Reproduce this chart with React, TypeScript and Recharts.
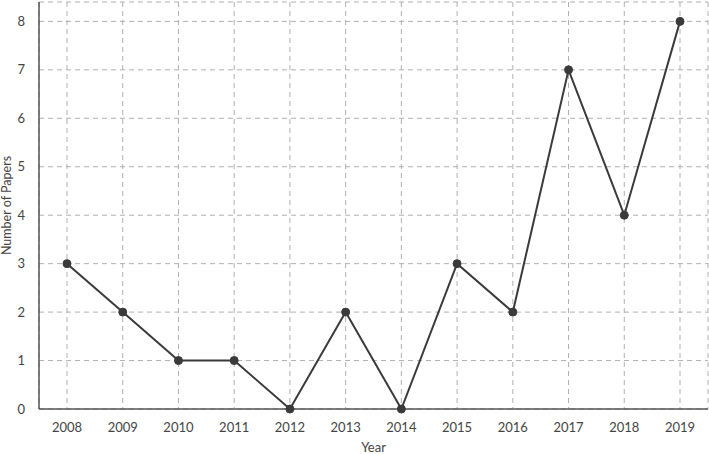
import { LineChart, Line, XAxis, YAxis, CartesianGrid } from "recharts";

const years = ["2008", "2009", "2010", "2011", "2012", "2013", "2014", "2015", "2016", "2017", "2018", "2019"];
const papers = [3, 2, 1, 1, 0, 2, 0, 3, 2, 7, 4, 8];
const yTicks = [0, 1, 2, 3, 4, 5, 6, 7, 8];

const data = years.map((year, i) => ({ year, papers: papers[i] }));

const font = "Lato, 'Open Sans', sans-serif";
const tickStyle = { fill: "#444", fontSize: 13, fontFamily: font };

export default function App() {
  return (
    <div style={{ position: "absolute", left: 0, top: 0, background: "#fff" }}>
      <LineChart width={709} height={454} data={data} margin={{ top: 2, right: 1, left: 0, bottom: 0 }}>
        <CartesianGrid stroke="#b0b0b0" strokeDasharray="5 4" />
        <XAxis
          dataKey="year"
          height={45}
          padding={{ left: 28, right: 28 }}
          tickLine={false}
          tickMargin={8}
          stroke="#555"
          strokeWidth={1.5}
          tick={tickStyle}
          interval={0}
          label={{ value: "Year", position: "insideBottom", offset: 2, style: { fill: "#444", fontSize: 13, fontFamily: font } }}
        />
        <YAxis
          width={39}
          domain={[0, 8.4]}
          ticks={yTicks}
          tickLine={false}
          tickMargin={8}
          stroke="#555"
          strokeWidth={1.5}
          tick={tickStyle}
          label={{ value: "Number of Papers", angle: -90, position: "insideLeft", offset: 7, style: { textAnchor: "middle", fill: "#444", fontSize: 12.5, fontFamily: font } }}
        />
        <Line
          type="linear"
          dataKey="papers"
          stroke="#3a3a3a"
          strokeWidth={2}
          dot={{ r: 4, fill: "#3a3a3a", stroke: "#3a3a3a", strokeWidth: 1 }}
          isAnimationActive={false}
        />
      </LineChart>
    </div>
  );
}
